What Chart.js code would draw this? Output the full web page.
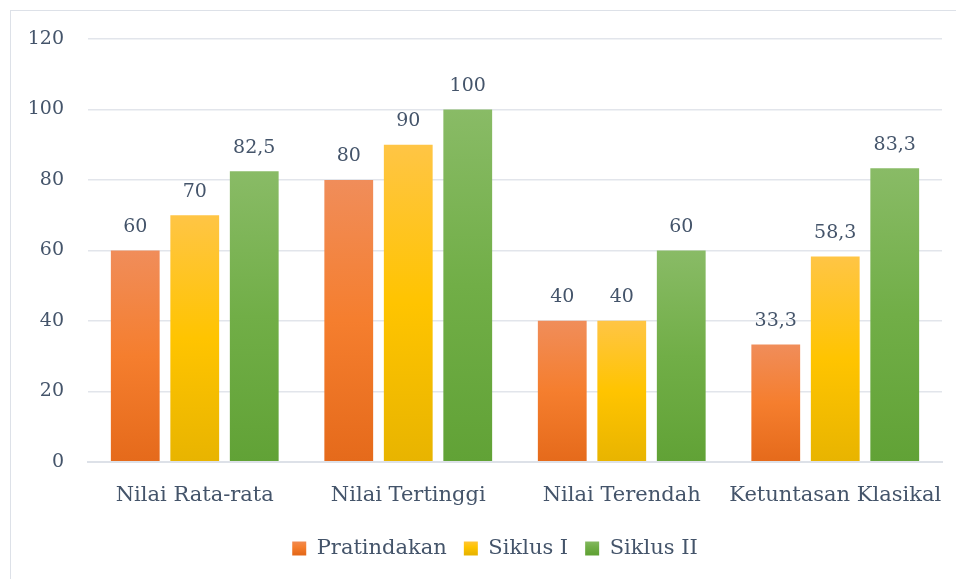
<!DOCTYPE html>
<html><head><meta charset="utf-8">
<script src="https://cdn.jsdelivr.net/npm/chart.js@4/dist/chart.umd.min.js"></script>
<style>
html,body{margin:0;padding:0;background:#fff;}
#wrap{position:relative;width:956px;height:579px;}
#frame{position:absolute;left:10px;top:10px;right:-5px;bottom:-5px;border-left:1.5px solid #dde1e8;border-top:1.5px solid #dde1e8;pointer-events:none;}
</style></head>
<body><div id="wrap"><canvas id="c" width="956" height="579"></canvas><div id="frame"></div></div>
<script>
const categories = ['Nilai Rata-rata','Nilai Tertinggi','Nilai Terendah','Ketuntasan Klasikal'];
const seriesNames = ['Pratindakan','Siklus I','Siklus II'];
const pratindakan = [60, 80, 40, 33.3];
const siklus1 = [70, 90, 40, 58.3];
const siklus2 = [82.5, 100, 60, 83.3];
const yTicks = [0, 20, 40, 60, 80, 100, 120];

const palettes = [
  ['#F08D5A','#F57E2E','#E56A1B'],
  ['#FFC545','#FFC400','#E8B400'],
  ['#89BB66','#71AE47','#61A236']
];
const FONT = '"DejaVu Serif", serif';
const TXT = '#44546A';

function grad(ctx, pal, top, bottom){
  const g = ctx.createLinearGradient(0, top, 0, bottom);
  g.addColorStop(0, pal[0]); g.addColorStop(0.5, pal[1]); g.addColorStop(1, pal[2]);
  return g;
}
function barBg(idx){
  return function(context){
    const chart = context.chart;
    const ys = chart.scales.y;
    if(!ys || context.type !== 'data') return palettes[idx][1];
    const v = context.raw;
    const top = ys.getPixelForValue(v), bottom = ys.getPixelForValue(0);
    if(!isFinite(top) || bottom - top < 1) return palettes[idx][1];
    return grad(chart.ctx, palettes[idx], top, bottom);
  };
}

const labelPlugin = {
  id:'vals',
  beforeDraw(chart){
    const lg = chart.legend;
    if(lg && !lg._shifted){ lg.left += 24; lg.right += 24; lg._shifted = true; }
  },
  afterDatasetsDraw(chart){
    const ctx = chart.ctx;
    ctx.save();
    ctx.font = '19px ' + FONT;
    ctx.fillStyle = TXT;
    ctx.textAlign = 'center';
    ctx.textBaseline = 'bottom';
    chart.data.datasets.forEach((ds, di)=>{
      chart.getDatasetMeta(di).data.forEach((el, i)=>{
        ctx.fillText(String(ds.data[i]).replace('.', ','), el.x, el.y - 14);
      });
    });
    ctx.restore();
  }
};

const dataArrs = [pratindakan, siklus1, siklus2];
new Chart(document.getElementById('c'), {
  type:'bar',
  data:{
    labels:categories,
    datasets: seriesNames.map((n, i)=>({
      label:n,
      data:dataArrs[i],
      backgroundColor:barBg(i),
      borderWidth:0,
      categoryPercentage:0.836,
      barPercentage:0.82
    }))
  },
  options:{
    responsive:false,
    animation:false,
    layout:{padding:{left:0,right:14,top:39,bottom:10}},
    plugins:{
      tooltip:{enabled:false},
      legend:{
        position:'bottom',
        labels:{
          font:{family:FONT,size:21},
          color:TXT,
          boxWidth:14, boxHeight:14,
          padding:17,
          generateLabels(chart){
            return chart.data.datasets.map((ds,i)=>({
              text:ds.label,
              fillStyle:grad(chart.ctx, palettes[i], 540, 554),
              strokeStyle:'rgba(0,0,0,0)',
              lineWidth:0,
              fontColor:TXT,
              datasetIndex:i,
              hidden:false
            }));
          }
        }
      }
    },
    scales:{
      x:{
        grid:{display:false},
        border:{display:true,color:'#DDE1E8',width:2},
        ticks:{font:{family:FONT,size:21},color:TXT,padding:13,maxRotation:0,autoSkip:false}
      },
      y:{
        min:0,max:120,
        afterBuildTicks(scale){ scale.ticks = yTicks.map(v=>({value:v})); },
        afterFit(scale){ scale.width = 88; },
        grid:{color:'#E2E5EB',lineWidth:1.5,drawTicks:false},
        border:{display:false},
        ticks:{font:{family:FONT,size:19},color:TXT,padding:24}
      }
    }
  },
  plugins:[labelPlugin]
});
</script></body></html>
